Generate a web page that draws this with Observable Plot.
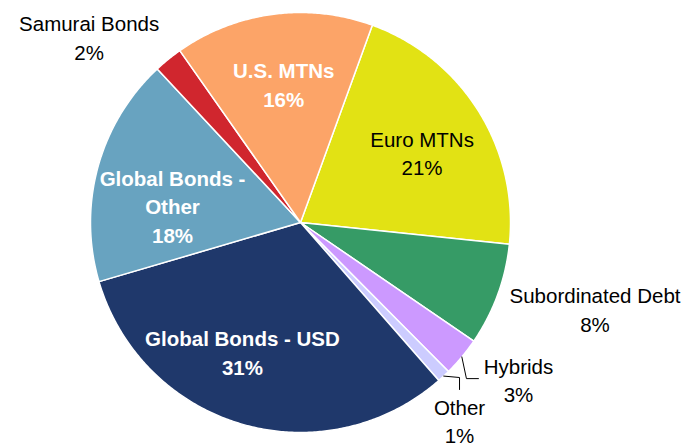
<!DOCTYPE html>
<html>
<head>
<meta charset="utf-8">
<script src="https://cdn.jsdelivr.net/npm/d3@7"></script>
<script src="https://cdn.jsdelivr.net/npm/@observablehq/plot@0.6"></script>
<style>
  html, body { margin: 0; padding: 0; background: #ffffff; }
  #chart { width: 686px; height: 446px; }
</style>
</head>
<body>
<div id="chart"></div>
<script>
// ---- data ----
const categories = ["Euro MTNs", "Subordinated Debt", "Hybrids", "Other", "Global Bonds - USD", "Global Bonds - Other", "Samurai Bonds", "U.S. MTNs"];
const labelNames = ["Euro MTNs", "Subordinated Debt", "Hybrids", "Other", "Global Bonds - USD", "Global Bonds -\nOther", "Samurai Bonds", "U.S. MTNs"];
const shares = [21.1, 7.9, 3.0, 1.0, 31.9, 17.6, 2.2, 15.3];      // estimated slice sizes
const percentLabels = ["21%", "8%", "3%", "1%", "31%", "18%", "2%", "16%"];
const sliceColors = ["#e2e214", "#369b66", "#cc99ff", "#ccccff", "#1f386b", "#68a3c0", "#d0262e", "#fca468"];

// ---- layout ----
const W = 686, H = 446;
const R = 210, CX = 300, CY = 222;          // pie centre and radius in pixels
const firstSliceDeg = 20;                   // angle of first slice (clockwise from 12 o'clock)
const insideLabels = new Set(["Global Bonds - USD", "Global Bonds - Other", "U.S. MTNs"]);
// per-label: radial factor and angular nudge (deg) from the slice's mid angle
const labelRadius = [0.670, 1.461, 1.278, 1.2075, 0.674, 0.615, 1.341, 0.667];
const labelTurn   = [1.8, -3.9, -4.1, 4.16, 8.0, -7.6, -9.6, 0.65];
// leader lines (pixel offsets of elbow and end from the label anchor)
const leaders = {
  "Hybrids": [[-52, -0.5], [-40, -0.5]],
  "Other":   [[0, -42.5], [0, -30.5]]
};

const rad = d => d * Math.PI / 180;
const pie = d3.pie().sort(null).value(d => d)
  .startAngle(rad(firstSliceDeg)).endAngle(rad(firstSliceDeg + 360))(shares);

// slice polygons in unit coordinates (y up)
const slicePts = [];
pie.forEach((p, i) => {
  const name = categories[i];
  slicePts.push({name, x: 0, y: 0});
  const n = Math.max(2, Math.ceil((p.endAngle - p.startAngle) / rad(0.5)));
  for (let k = 0; k <= n; k++) {
    const a = p.startAngle + (p.endAngle - p.startAngle) * k / n;
    slicePts.push({name, x: Math.sin(a), y: Math.cos(a)});
  }
  slicePts.push({name, x: 0, y: 0});
});

// labels
const labels = pie.map((p, i) => {
  const mid = (p.startAngle + p.endAngle) / 2;
  const a = mid + rad(labelTurn[i]);
  return {
    name: categories[i],
    text: labelNames[i] + "\n" + percentLabels[i],
    x: Math.sin(a) * labelRadius[i],
    y: Math.cos(a) * labelRadius[i],
    mid,
    inside: insideLabels.has(categories[i])
  };
});

// leader lines
const leaderPts = [];
labels.forEach(l => {
  const off = leaders[l.name];
  if (!off) return;
  leaderPts.push({name: l.name, x: Math.sin(l.mid), y: Math.cos(l.mid)});
  off.forEach(([dx, dy]) => leaderPts.push({name: l.name, x: l.x + dx / R, y: l.y - dy / R}));
});

const font = "'Liberation Sans', Arial, Helvetica, sans-serif";

const chart = Plot.plot({
  width: W,
  height: H,
  margin: 0,
  x: {domain: [-CX / R, (W - CX) / R], axis: null},
  y: {domain: [-(H - CY) / R, CY / R], axis: null},
  color: {domain: categories, range: sliceColors},
  style: {fontFamily: font, background: "#ffffff"},
  marks: [
    Plot.line(slicePts, {x: "x", y: "y", z: "name", fill: "name", stroke: "#ffffff", strokeWidth: 1.5, curve: "linear"}),
    Plot.line(leaderPts, {x: "x", y: "y", z: "name", stroke: "#000000", strokeWidth: 1}),
    Plot.text(labels.filter(d => d.inside), {x: "x", y: "y", text: "text", fill: "#ffffff", fontWeight: "bold", fontSize: 20.5, lineHeight: 1.39, fontFamily: font}),
    Plot.text(labels.filter(d => !d.inside), {x: "x", y: "y", text: "text", fill: "#000000", fontSize: 20.5, lineHeight: 1.39, fontFamily: font})
  ]
});
document.getElementById("chart").appendChild(chart);
</script>
</body>
</html>
